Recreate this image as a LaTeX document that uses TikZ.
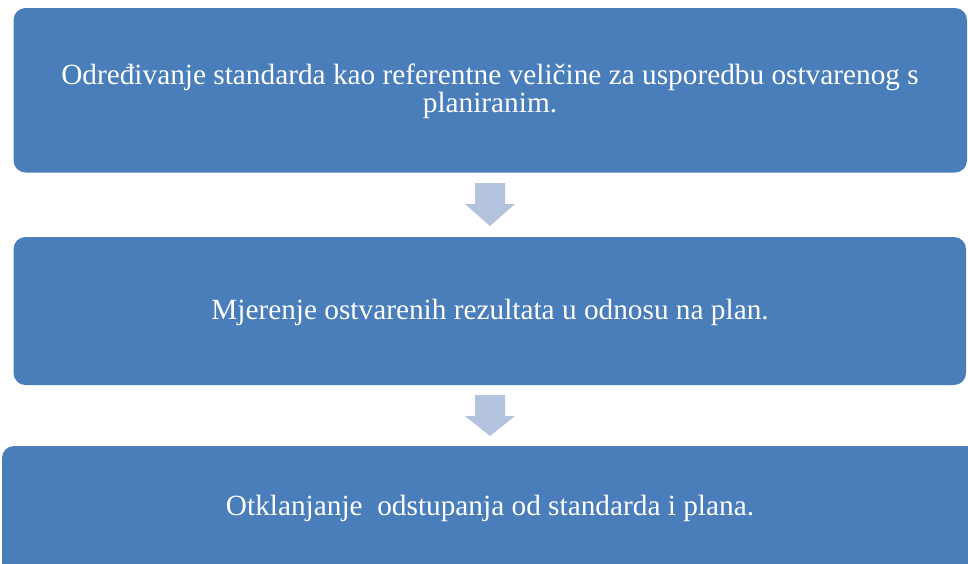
\documentclass[tikz,border=0pt]{standalone}
\usepackage{fontspec}
\setmainfont{Liberation Serif}
\definecolor{boxblue}{HTML}{4A7EBB}
\definecolor{arrowblue}{HTML}{B3C3DD}
\tikzset{
  box/.style={fill=boxblue, draw=none, rounded corners=12pt},
  boxtext/.style={text=white, font=\fontsize{29.3}{28}\selectfont, align=center, inner sep=0pt},
  downarrow/.style={fill=arrowblue, draw=none}
}
\begin{document}
\begin{tikzpicture}[x=1pt,y=-1pt]
\useasboundingbox (0,0) rectangle (968,563);
\clip (0,0) rectangle (968,563);
\fill[box] (13.5,8) rectangle (967,172.5);
\fill[box] (13.5,237) rectangle (966,385);
\fill[box] (2,446) rectangle (990,600);
\node[boxtext] (t1) at (490,91) {Određivanje standarda kao referentne veličine za usporedbu ostvarenog s\\planiranim.};
\node[boxtext, anchor=base] (t2) at (490,319) {Mjerenje ostvarenih rezultata u odnosu na plan.};
\node[boxtext, anchor=base] (t3) at (490,515) {Otklanjanje\ \ odstupanja od standarda i plana.};
\fill[downarrow] (475,183) -- (505,183) -- (505,204) -- (515,204) -- (490,226) -- (465,204) -- (475,204) -- cycle;
\fill[downarrow] (475,395) -- (505,395) -- (505,416) -- (515,416) -- (490,436) -- (465,416) -- (475,416) -- cycle;
\end{tikzpicture}
\end{document}
